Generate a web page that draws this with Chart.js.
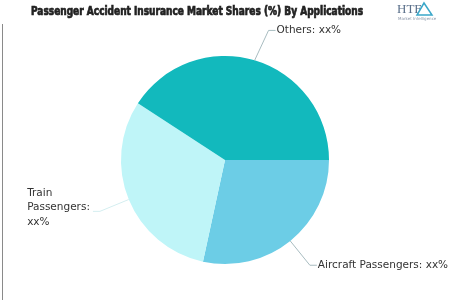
<!DOCTYPE html>
<html>
<head>
<meta charset="utf-8">
<script src="https://cdn.jsdelivr.net/npm/chart.js@4.4.1/dist/chart.umd.min.js"></script>
<style>
  html, body { margin: 0; padding: 0; background: #fff; }
  #wrap { position: relative; width: 450px; height: 300px; }
</style>
</head>
<body>
<div id="wrap"><canvas id="pieChart" width="450" height="300"></canvas></div>
<script>
var TITLE = 'Passenger Accident Insurance Market Shares (%) By Applications';
var categories = ['Aircraft Passengers', 'Train Passengers', 'Others'];
var shares = [28.4, 30.8, 40.8];
var valueLabels = ['xx%', 'xx%', 'xx%'];
var sliceColors = ['#6ccde6', '#bff5f8', '#12b9bd'];

// label text lines per slice (train label wraps)
var labelLines = [
    [categories[0] + ': ' + valueLabels[0]],
    ['Train', 'Passengers:', valueLabels[1]],
    [categories[2] + ': ' + valueLabels[2]]
];

var decorPlugin = {
    id: 'decor',
    afterDraw: function (chart) {
        var ctx = chart.ctx;
        ctx.save();

        // left frame line
        ctx.strokeStyle = '#8a8a8a';
        ctx.lineWidth = 1;
        ctx.beginPath();
        ctx.moveTo(2.5, 24);
        ctx.lineTo(2.5, 300);
        ctx.stroke();

        // title, squeezed to mimic the condensed heavy face
        ctx.fillStyle = '#222';
        ctx.strokeStyle = '#222';
        ctx.font = 'bold 12px "DejaVu Sans Condensed", "DejaVu Sans", sans-serif';
        ctx.textBaseline = 'middle';
        var w = ctx.measureText(TITLE).width;
        ctx.save();
        ctx.translate(31, 12);
        ctx.scale(332 / w, 1);
        ctx.lineWidth = 0.7;
        ctx.fillText(TITLE, 0, 0);
        ctx.strokeText(TITLE, 0, 0);
        ctx.restore();

        // logo
        ctx.fillStyle = '#5a6f8a';
        ctx.font = '13px "Liberation Serif", serif';
        ctx.textAlign = 'left';
        ctx.fillText('HTF', 397, 10);
        ctx.strokeStyle = '#3aa7c9';
        ctx.lineWidth = 1.5;
        ctx.beginPath();
        ctx.moveTo(424, 3);
        ctx.lineTo(417, 15);
        ctx.lineTo(432, 15);
        ctx.closePath();
        ctx.stroke();
        ctx.fillStyle = '#8a96a8';
        ctx.font = '4px "DejaVu Sans", sans-serif';
        ctx.fillText('Market Intelligence', 398, 19);

        // slice labels with leader lines
        var meta = chart.getDatasetMeta(0);
        ctx.font = '10.5px "DejaVu Sans", sans-serif';
        ctx.textBaseline = 'middle';
        meta.data.forEach(function (arc, i) {
            var p = arc.getProps(['x', 'y', 'startAngle', 'endAngle', 'outerRadius'], true);
            var mid = (p.startAngle + p.endAngle) / 2;
            var cos = Math.cos(mid), sin = Math.sin(mid);
            var x0 = p.x + cos * p.outerRadius, y0 = p.y + sin * p.outerRadius;
            var r1 = p.outerRadius * 1.3;
            var x1 = p.x + cos * r1 + (i === 2 ? 5 : 0), y1 = p.y + sin * r1;
            var right = cos >= 0;
            var x2 = x1 + (right ? 7 : -7);

            ctx.strokeStyle = i === 1 ? '#d4eef0' : '#a8bcc0';
            ctx.lineWidth = 1;
            ctx.beginPath();
            ctx.moveTo(x0, y0);
            ctx.lineTo(x1, y1);
            ctx.lineTo(x2, y1);
            ctx.stroke();

            var lines = labelLines[i];
            var maxW = 0;
            lines.forEach(function (t) { maxW = Math.max(maxW, ctx.measureText(t).width); });
            var lh = 14.5;
            var tx = right ? x2 + 1 : x2 - 3 - maxW;
            var ty = y1 - (lines.length - 1) * lh / 2 - (lines.length > 1 ? 4 : 0);
            ctx.fillStyle = '#333';
            ctx.textAlign = 'left';
            lines.forEach(function (t, k) { ctx.fillText(t, tx, ty + k * lh); });
        });

        ctx.restore();
    }
};

new Chart(document.getElementById('pieChart'), {
    type: 'pie',
    data: {
        labels: categories,
        datasets: [{
            data: shares,
            backgroundColor: sliceColors,
            borderWidth: 0
        }]
    },
    options: {
        responsive: false,
        animation: false,
        rotation: 90,
        layout: { padding: { top: 56, bottom: 36, left: 0, right: 0 } },
        plugins: {
            legend: { display: false },
            tooltip: { enabled: false },
            title: { display: false }
        }
    },
    plugins: [decorPlugin]
});
</script>
</body>
</html>
